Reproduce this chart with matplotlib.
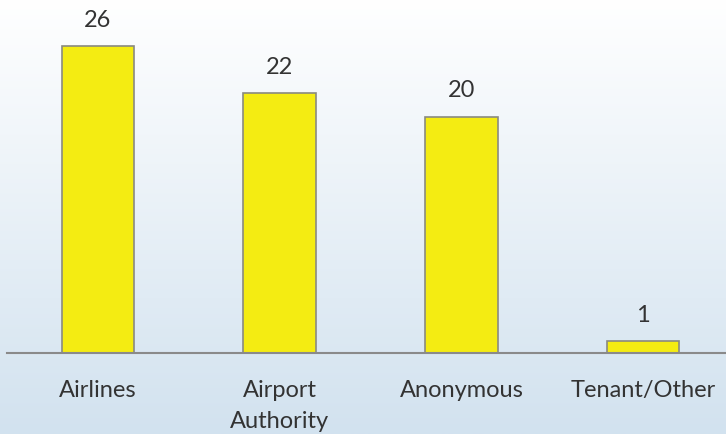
import numpy as np
import matplotlib
matplotlib.use("Agg")
import matplotlib.pyplot as plt
from matplotlib.colors import LinearSegmentedColormap

categories = ['Airlines', 'Airport\nAuthority', 'Anonymous', 'Tenant/Other']
counts = [26, 22, 20, 1]

plt.rcParams['font.family'] = ['Lato', 'DejaVu Sans']

fig = plt.figure(figsize=(7.26, 4.35), dpi=100)

# background gradient, white at top to pale blue at bottom
bg = fig.add_axes([0, 0, 1, 1], zorder=-1)
grad = np.linspace(0, 1, 256).reshape(-1, 1)
cmap = LinearSegmentedColormap.from_list('bg', ['#ffffff', '#d2e2ef'])
bg.imshow(grad, aspect='auto', cmap=cmap, extent=[0, 1, 0, 1], origin='upper')
bg.axis('off')

ax = fig.add_axes([7 / 726, 81 / 435, 727 / 726, 354 / 435])
ax.patch.set_alpha(0)
x = np.arange(len(categories))
bars = ax.bar(x, counts, width=0.4, color='#f4ec12', edgecolor='#8a8a80', linewidth=1.2)

for b, v in zip(bars, counts):
    ax.text(b.get_x() + b.get_width() / 2, v + 1.4, str(v), ha='center', va='bottom',
            fontsize=17, color='#333333')

ax.set_xlim(-0.5, 3.5)
ax.set_ylim(0, 30)
ax.set_xticks(x)
ax.set_xticklabels(categories, fontsize=17, color='#333333', linespacing=1.55)
ax.tick_params(axis='x', length=0, pad=19)
ax.set_yticks([])
for s in ['top', 'left', 'right']:
    ax.spines[s].set_visible(False)
ax.spines['bottom'].set_color('#8a8a8a')
ax.spines['bottom'].set_linewidth(1.5)

fig.savefig('out.png', dpi=100)
